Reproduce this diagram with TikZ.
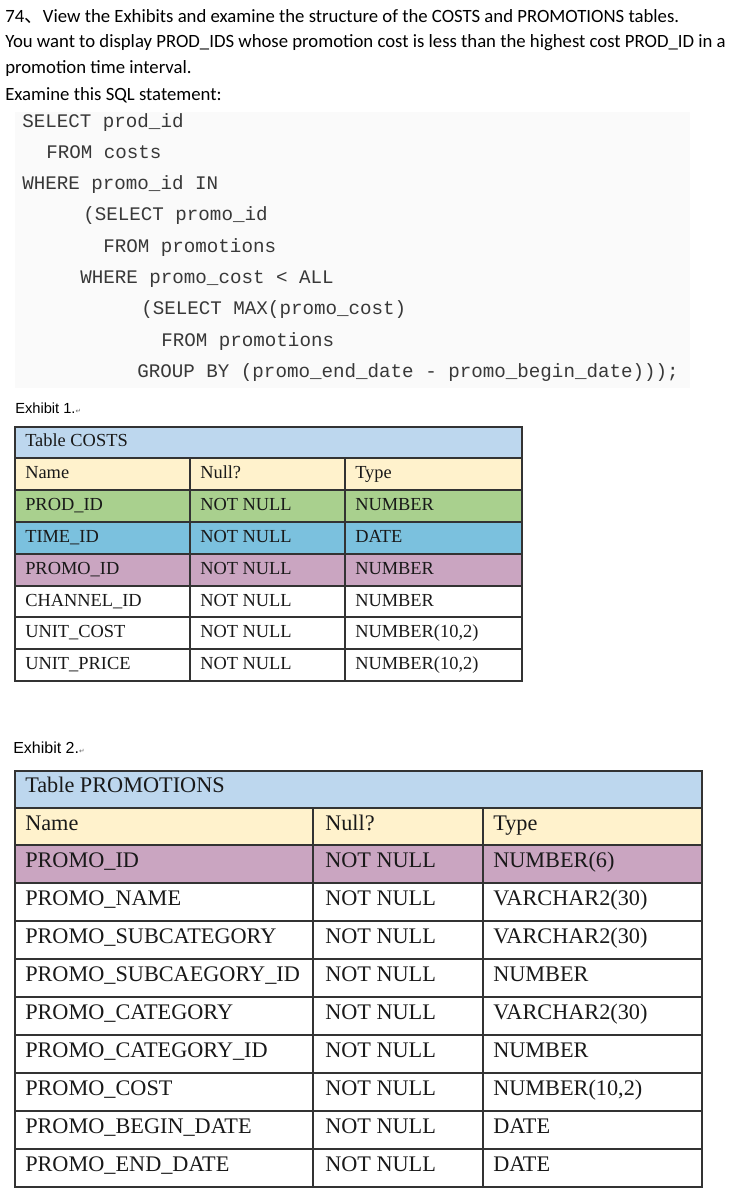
\documentclass[tikz,border=0pt]{standalone}
\usepackage{fontspec}
\usepackage{xcolor}
\setmainfont{Liberation Serif}
\newfontfamily\headfont{Carlito}
\newfontfamily\sqlfont{Liberation Mono}
\newfontfamily\exfont{Liberation Sans}
\newfontfamily\cjkfont{Noto Sans CJK SC}
\newfontfamily\symfont{DejaVu Sans}
\definecolor{ttlblue}{HTML}{BDD7EE}
\definecolor{hdryellow}{HTML}{FFF2CC}
\definecolor{rowgreen}{HTML}{A9D08E}
\definecolor{rowcyan}{HTML}{7BC1DE}
\definecolor{rowmauve}{HTML}{CAA5C1}
\newcommand{\retmark}{{\symfont\fontsize{5}{5}\selectfont\color{black!60}↵}}

\begin{document}
\begin{tikzpicture}[x=0.75pt,y=-0.75pt,
    headtext/.style={anchor=base west,inner sep=0,font=\headfont\fontsize{14.05}{16}\selectfont},
    sqlline/.style={anchor=base west,inner sep=0,font=\sqlfont\fontsize{14.4}{16}\selectfont,text=black!78},
    extitle/.style={anchor=base west,inner sep=0,font=\exfont\fontsize{11}{13}\selectfont},
    costcell/.style={anchor=base west,inner sep=0,font=\fontsize{13.8}{16}\selectfont,text=black!90},
    promocell/.style={anchor=base west,inner sep=0,font=\fontsize{16.7}{19}\selectfont,text=black!90},
    gridline/.style={draw=black!80,line width=1.1pt}]
\useasboundingbox[fill=white] (0,0) rectangle (748,1204);

\node[headtext] (q1) at (5,22) {74{\cjkfont 、}View the Exhibits and examine the structure of the COSTS and PROMOTIONS tables.};
\node[headtext] (q2) at (5,47) {You want to display PROD\_IDS whose promotion cost is less than the highest cost PROD\_ID in a};
\node[headtext] (q3) at (5,73) {promotion time interval.};
\node[headtext] (q4) at (5,100) {Examine this SQL statement:};

\fill[black!2] (15,112) rectangle (690,388);
\node[sqlline] (s1) at (22,127) {SELECT prod\_id};
\node[sqlline] (s2) at (46,158) {FROM costs};
\node[sqlline] (s3) at (22,189) {WHERE promo\_id IN};
\node[sqlline] (s4) at (83,220) {(SELECT promo\_id};
\node[sqlline] (s5) at (103,252) {FROM promotions};
\node[sqlline] (s6) at (80,283) {WHERE promo\_cost < ALL};
\node[sqlline] (s7) at (141,314) {(SELECT MAX(promo\_cost)};
\node[sqlline] (s8) at (161,346) {FROM promotions};
\node[sqlline] (s9) at (137,377) {GROUP BY (promo\_end\_date - promo\_begin\_date)));};

\node[extitle] (ex1) at (15,413) {Exhibit 1.\retmark};

\fill[ttlblue] (15,427) rectangle (522,458);
\fill[hdryellow] (15,458) rectangle (522,490);
\fill[rowgreen] (15,490) rectangle (522,522);
\fill[rowcyan] (15,522) rectangle (522,554);
\fill[rowmauve] (15,554) rectangle (522,586);
\draw[gridline] (15,427) rectangle (522,681);
\draw[gridline] (15,458) -- (522,458) (15,490) -- (522,490) (15,522) -- (522,522) (15,554) -- (522,554) (15,586) -- (522,586) (15,617) -- (522,617) (15,649) -- (522,649);
\draw[gridline] (190,458) -- (190,681) (345,458) -- (345,681);
\node[costcell] (ct) at (25,446) {Table COSTS};
\node[costcell] (cn0) at (25,478) {Name};
\node[costcell] (cz0) at (200,478) {Null?};
\node[costcell] (cy0) at (355,478) {Type};
\node[costcell] (cn1) at (25,510) {PROD\_ID};
\node[costcell] (cz1) at (200,510) {NOT NULL};
\node[costcell] (cy1) at (355,510) {NUMBER};
\node[costcell] (cn2) at (25,542) {TIME\_ID};
\node[costcell] (cz2) at (200,542) {NOT NULL};
\node[costcell] (cy2) at (355,542) {DATE};
\node[costcell] (cn3) at (25,574) {PROMO\_ID};
\node[costcell] (cz3) at (200,574) {NOT NULL};
\node[costcell] (cy3) at (355,574) {NUMBER};
\node[costcell] (cn4) at (25,606) {CHANNEL\_ID};
\node[costcell] (cz4) at (200,606) {NOT NULL};
\node[costcell] (cy4) at (355,606) {NUMBER};
\node[costcell] (cn5) at (25,637) {UNIT\_COST};
\node[costcell] (cz5) at (200,637) {NOT NULL};
\node[costcell] (cy5) at (355,637) {NUMBER(10,2)};
\node[costcell] (cn6) at (25,669) {UNIT\_PRICE};
\node[costcell] (cz6) at (200,669) {NOT NULL};
\node[costcell] (cy6) at (355,669) {NUMBER(10,2)};

\node[extitle,font=\exfont\fontsize{12}{14}\selectfont] (ex2) at (13,753) {Exhibit 2.\retmark};

\fill[ttlblue] (15,771) rectangle (702,808);
\fill[hdryellow] (15,808) rectangle (702,845);
\fill[rowmauve] (15,845) rectangle (702,883);
\draw[gridline] (15,771) rectangle (702,1187);
\draw[gridline] (15,808) -- (702,808) (15,845) -- (702,845) (15,883) -- (702,883) (15,921) -- (702,921) (15,959) -- (702,959) (15,997) -- (702,997) (15,1035) -- (702,1035) (15,1073) -- (702,1073) (15,1111) -- (702,1111) (15,1149) -- (702,1149);
\draw[gridline] (313,808) -- (313,1187) (483,808) -- (483,1187);
\node[promocell] (pt) at (25,792) {Table PROMOTIONS};
\node[promocell] (pn0) at (25,830) {Name};
\node[promocell] (pz0) at (325,830) {Null?};
\node[promocell] (py0) at (493,830) {Type};
\node[promocell] (pn1) at (25,867) {PROMO\_ID};
\node[promocell] (pz1) at (325,867) {NOT NULL};
\node[promocell] (py1) at (493,867) {NUMBER(6)};
\node[promocell] (pn2) at (25,905) {PROMO\_NAME};
\node[promocell] (pz2) at (325,905) {NOT NULL};
\node[promocell] (py2) at (493,905) {VARCHAR2(30)};
\node[promocell] (pn3) at (25,943) {PROMO\_SUBCATEGORY};
\node[promocell] (pz3) at (325,943) {NOT NULL};
\node[promocell] (py3) at (493,943) {VARCHAR2(30)};
\node[promocell] (pn4) at (25,981) {PROMO\_SUBCAEGORY\_ID};
\node[promocell] (pz4) at (325,981) {NOT NULL};
\node[promocell] (py4) at (493,981) {NUMBER};
\node[promocell] (pn5) at (25,1019) {PROMO\_CATEGORY};
\node[promocell] (pz5) at (325,1019) {NOT NULL};
\node[promocell] (py5) at (493,1019) {VARCHAR2(30)};
\node[promocell] (pn6) at (25,1057) {PROMO\_CATEGORY\_ID};
\node[promocell] (pz6) at (325,1057) {NOT NULL};
\node[promocell] (py6) at (493,1057) {NUMBER};
\node[promocell] (pn7) at (25,1095) {PROMO\_COST};
\node[promocell] (pz7) at (325,1095) {NOT NULL};
\node[promocell] (py7) at (493,1095) {NUMBER(10,2)};
\node[promocell] (pn8) at (25,1133) {PROMO\_BEGIN\_DATE};
\node[promocell] (pz8) at (325,1133) {NOT NULL};
\node[promocell] (py8) at (493,1133) {DATE};
\node[promocell] (pn9) at (25,1171) {PROMO\_END\_DATE};
\node[promocell] (pz9) at (325,1171) {NOT NULL};
\node[promocell] (py9) at (493,1171) {DATE};
\end{tikzpicture}
\end{document}
